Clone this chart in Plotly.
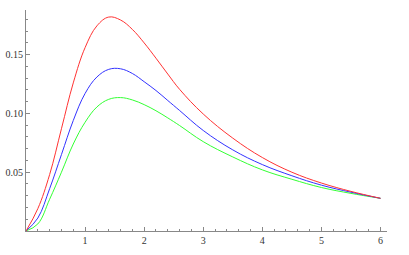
import plotly.graph_objects as go

x_vals = [0, 0.2, 0.4, 0.6, 0.8, 1.0, 1.2, 1.4, 1.6, 1.8, 2.0, 2.2, 2.4, 2.6, 3.0, 3.5, 4.0, 4.5, 5.0, 5.5, 6.0]
red_vals = [0, 0.019, 0.048, 0.087, 0.126, 0.156, 0.1745, 0.182, 0.1795, 0.1715, 0.160, 0.147, 0.1335, 0.1205, 0.0995, 0.079, 0.0625, 0.050, 0.0408, 0.0337, 0.0278]
blue_vals = [0, 0.011, 0.036, 0.065, 0.094, 0.117, 0.131, 0.1375, 0.138, 0.134, 0.127, 0.1195, 0.111, 0.1025, 0.0855, 0.069, 0.0565, 0.047, 0.039, 0.033, 0.0278]
green_vals = [0, 0.006, 0.027, 0.050, 0.074, 0.0925, 0.1055, 0.112, 0.1135, 0.1115, 0.1075, 0.1023, 0.0962, 0.0897, 0.076, 0.063, 0.052, 0.044, 0.037, 0.032, 0.0278]

x_ticks = [1, 2, 3, 4, 5, 6]
x_tick_text = ["1", "2", "3", "4", "5", "6"]
y_ticks = [0.05, 0.10, 0.15]
y_tick_text = ["0.05", "0.10", "0.15"]

fig = go.Figure()
for ys, col in [(green_vals, "#33ff33"), (blue_vals, "#3333ff"), (red_vals, "#ff3333")]:
    fig.add_trace(go.Scatter(x=x_vals, y=ys, mode="lines",
                             line=dict(color=col, width=1, shape="spline", smoothing=1.1),
                             showlegend=False, hoverinfo="skip"))

axis_common = dict(showgrid=False, zeroline=False, showline=True, linecolor="#888888",
                   linewidth=1, ticks="inside", ticklen=4, tickcolor="#888888", automargin=False,
                   tickfont=dict(family="Liberation Serif, Times New Roman, serif", size=10, color="#333333"))

fig.update_layout(
    width=409, height=255,
    margin=dict(l=26, r=22, t=10, b=24),
    paper_bgcolor="white", plot_bgcolor="white",
    xaxis=dict(range=[0, 6.11], tickmode="array", tickvals=x_ticks, ticktext=x_tick_text,
               minor=dict(ticks="inside", ticklen=2, dtick=0.2, tick0=0, tickcolor="#888888"),
               **axis_common),
    yaxis=dict(range=[0, 0.188], tickmode="array", tickvals=y_ticks, ticktext=y_tick_text,
               minor=dict(ticks="inside", ticklen=2, dtick=0.01, tick0=0, tickcolor="#888888"),
               **axis_common),
)

fig.write_html("out.html", config={"displayModeBar": False, "staticPlot": True},
               post_script="document.body.style.margin='0';")
